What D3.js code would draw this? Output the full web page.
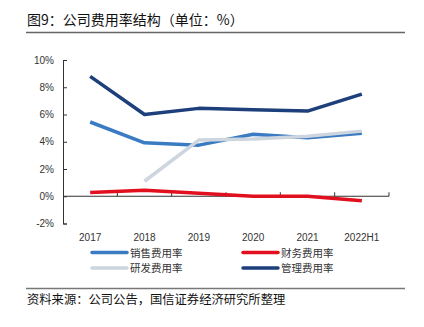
<!DOCTYPE html>
<html lang="zh">
<head>
<meta charset="UTF-8">
<title>图9：公司费用率结构</title>
<script src="https://d3js.org/d3.v7.min.js"></script>
<style>
  body { margin: 0; background: #fff; }
  text { font-family: "Liberation Sans", Arial, sans-serif; }
  .cjk { font-family: "Noto Sans CJK SC", sans-serif; }
</style>
</head>
<body>
<div id="chart"></div>
<script>
// data
const years = ["2017", "2018", "2019", "2020", "2021", "2022H1"];
const sales = [5.45, 3.92, 3.75, 4.55, 4.3, 4.62];          // 销售费用率
const rnd = [null, 1.1, 4.12, 4.2, 4.4, 4.78];               // 研发费用率
const finance = [0.27, 0.44, 0.22, 0.0, 0.0, -0.33];         // 财务费用率
const admin = [8.8, 6.0, 6.45, 6.35, 6.25, 7.5];             // 管理费用率
const yTicks = [-2, 0, 2, 4, 6, 8, 10];

const series = [
  { name: "销售费用率", values: sales, color: "#3a7bc3" },
  { name: "研发费用率", values: rnd, color: "#cdd5df" },
  { name: "财务费用率", values: finance, color: "#e2101f" },
  { name: "管理费用率", values: admin, color: "#1d3f7b" }
];

const W = 424, H = 327;
const svg = d3.select("#chart").append("svg")
  .attr("width", W).attr("height", H);

// title + rule
svg.append("text").attr("class", "cjk")
  .attr("x", 27).attr("y", 25)
  .style("font-size", "14px").attr("fill", "#111")
  .text("图9：公司费用率结构（单位：%）");
svg.append("line").attr("x1", 26).attr("x2", 405).attr("y1", 32.5).attr("y2", 32.5)
  .attr("stroke", "#666").attr("stroke-width", 1.5);

const x = d3.scaleBand().domain(years).range([63, 389]);
const y = d3.scaleLinear().domain([-2, 10]).range([223.5, 60]);

// y axis, ticks pointing inward
const yAxis = svg.append("g").attr("transform", "translate(63,0)")
  .call(d3.axisRight(y).tickValues(yTicks).tickSize(4).tickFormat(d => d + "%"));
yAxis.select(".domain").attr("stroke", "#333");
yAxis.selectAll(".tick line").attr("stroke", "#333");
yAxis.selectAll(".tick text").attr("x", -9).attr("text-anchor", "end")
  .style("font-size", "10px").attr("fill", "#333");

// x axis along the zero line, ticks pointing up, between categories
const y0 = y(0);
svg.append("line").attr("x1", 63).attr("x2", 389).attr("y1", y0).attr("y2", y0)
  .attr("stroke", "#333");
svg.append("g").selectAll("line")
  .data(years)
  .join("line")
  .attr("x1", d => x(d) + x.bandwidth()).attr("x2", d => x(d) + x.bandwidth())
  .attr("y1", y0).attr("y2", y0 - 4)
  .attr("stroke", "#333");
svg.append("g").selectAll("text")
  .data(years)
  .join("text")
  .attr("x", d => x(d) + x.bandwidth() / 2).attr("y", 241)
  .attr("text-anchor", "middle")
  .style("font-size", "10px").attr("fill", "#333")
  .text(d => d);

// lines
const line = d3.line()
  .defined(d => d.v !== null)
  .x(d => x(d.year) + x.bandwidth() / 2)
  .y(d => y(d.v));

series.forEach(s => {
  svg.append("path")
    .datum(years.map((yr, i) => ({ year: yr, v: s.values[i] })))
    .attr("d", line)
    .attr("fill", "none")
    .attr("stroke", s.color)
    .attr("stroke-width", 3.5)
    .attr("stroke-linejoin", "round");
});

// legend
const legendPos = [[92, 252.5], [92, 268], [243, 252.5], [243, 268]];
series.forEach((s, i) => {
  const [lx, ly] = legendPos[i];
  svg.append("line").attr("x1", lx).attr("x2", lx + 35).attr("y1", ly).attr("y2", ly)
    .attr("stroke", s.color).attr("stroke-width", 3.5).attr("stroke-linecap", "round");
  svg.append("text").attr("class", "cjk")
    .attr("x", lx + 38).attr("y", ly + 4)
    .style("font-size", "10.5px").attr("fill", "#333")
    .text(s.name);
});

// source rule + text
svg.append("line").attr("x1", 26).attr("x2", 405).attr("y1", 288.5).attr("y2", 288.5)
  .attr("stroke", "#777").attr("stroke-width", 1.5);
svg.append("text").attr("class", "cjk")
  .attr("x", 27).attr("y", 304)
  .style("font-size", "12.3px").attr("fill", "#111")
  .text("资料来源：公司公告，国信证券经济研究所整理");
</script>
</body>
</html>
